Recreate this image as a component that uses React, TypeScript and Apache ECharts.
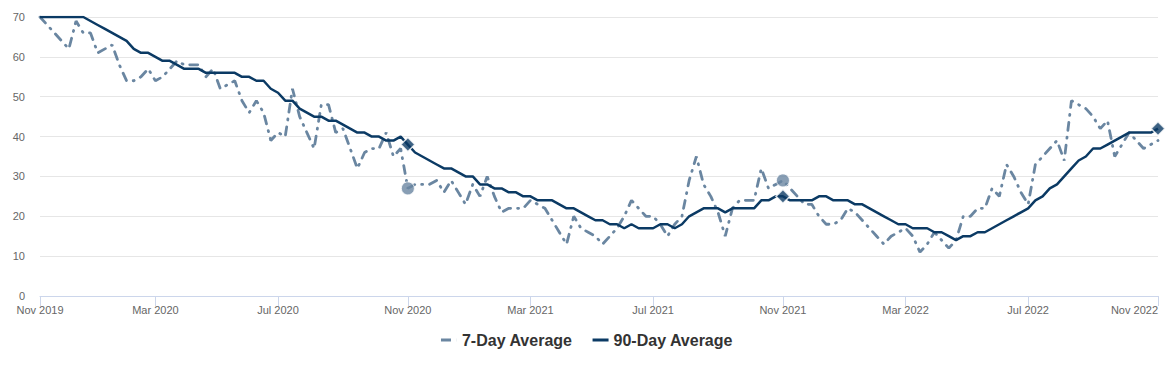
import React, { useEffect, useRef } from "react";
import * as echarts from "echarts";

// Weekly observations (ordinal x axis, one category per week)
const sevenDay: number[] = [
  70, 68, 66, 64, 62, 69, 66, 66, 61, 62,
  63, 58, 54, 54, 55, 57, 54, 55, 57, 59,
  58, 58, 58, 55, 57, 52, 53, 54, 49, 46,
  49, 46, 39, 41, 40, 52, 45, 41, 37, 48,
  48, 41, 42, 37, 32, 36, 37, 37, 41, 35,
  37, 27, 28, 28, 28, 29, 26, 29, 26, 23,
  28, 25, 30, 25, 21, 22, 22, 22, 24, 23,
  22, 19, 16, 13, 20, 17, 16, 15, 13, 15,
  17, 20, 24, 22, 20, 20, 18, 15, 18, 20,
  29, 35, 28, 25, 21, 15, 22, 24, 24, 24,
  32, 27, 28, 29, 27, 25, 23, 23, 20, 18,
  18, 19, 22, 21, 19, 17, 15, 13, 15, 16,
  17, 15, 11, 13, 16, 14, 12, 14, 20, 20,
  22, 22, 27, 25, 33, 30, 26, 23, 33, 35,
  37, 39, 34, 49, 48, 47, 45, 42, 44, 35,
  38, 41, 39, 37, 38, 39,
];

const ninetyDay: number[] = [
  70, 70, 70, 70, 70, 70, 70, 69, 68, 67,
  66, 65, 64, 62, 61, 61, 60, 59, 59, 58,
  57, 57, 57, 56, 56, 56, 56, 56, 55, 55,
  54, 54, 52, 51, 49, 49, 47, 46, 45, 45,
  44, 44, 43, 42, 41, 41, 40, 40, 39, 39,
  40, 38, 36, 35, 34, 33, 32, 32, 31, 30,
  30, 28, 28, 27, 27, 26, 26, 25, 25, 24,
  24, 24, 23, 22, 22, 21, 20, 19, 19, 18,
  18, 17, 18, 17, 17, 17, 18, 18, 17, 18,
  20, 21, 22, 22, 22, 21, 22, 22, 22, 22,
  24, 24, 25, 25, 24, 24, 24, 24, 25, 25,
  24, 24, 24, 23, 23, 22, 21, 20, 19, 18,
  18, 17, 17, 17, 16, 16, 15, 14, 15, 15,
  16, 16, 17, 18, 19, 20, 21, 22, 24, 25,
  27, 28, 30, 32, 34, 35, 37, 37, 38, 39,
  40, 41, 41, 41, 41, 42,
];

const weekCategories: string[] = sevenDay.map((_, i) => `Week ${i + 1}`);

const tickLabels: string[] = [
  "Nov 2019", "Mar 2020", "Jul 2020", "Nov 2020", "Mar 2021",
  "Jul 2021", "Nov 2021", "Mar 2022", "Jul 2022", "Nov 2022",
];
const tickWeeks: number[] = [0, 16, 33, 51, 68, 85, 103, 120, 137, 155];

const sevenDayMarkerWeeks: number[] = [51, 103];
const ninetyDayMarkerWeeks: number[] = [51, 103, 155];

const SEVEN_COLOR = "#6a86a1";
const NINETY_COLOR = "#0b3a64";
const FONT = "'Liberation Sans', Arial, sans-serif";

export default function App() {
  const ref = useRef<HTMLDivElement>(null);

  useEffect(() => {
    if (!ref.current) return;
    const chart = echarts.init(ref.current, undefined, { renderer: "svg" });
    const isTick = (i: number) => tickWeeks.indexOf(i) >= 0;

    chart.setOption({
      animation: false,
      backgroundColor: "#ffffff",
      textStyle: { fontFamily: FONT },
      grid: { left: 40, right: 16, top: 17, bottom: 69, containLabel: false },
      legend: {
        data: [
          {
            name: "7-Day Average",
            icon: "path://M0 0H10V3H0Z M15.9 0H16V3H15.9Z",
            itemStyle: { color: SEVEN_COLOR },
          },
          {
            name: "90-Day Average",
            icon: "path://M0 0H16V3H0Z",
            itemStyle: { color: NINETY_COLOR },
          },
        ],
        left: "center",
        top: 327,
        itemWidth: 16,
        itemHeight: 3,
        itemGap: 20,
        textStyle: {
          fontFamily: FONT,
          fontSize: 16,
          fontWeight: "bold",
          color: "#333333",
        },
      },
      xAxis: {
        type: "category",
        data: weekCategories,
        boundaryGap: false,
        axisLine: { show: true, lineStyle: { color: "#ccd6eb", width: 1 } },
        axisTick: {
          show: true,
          length: 10,
          interval: (i: number) => isTick(i),
          lineStyle: { color: "#ccd6eb" },
        },
        axisLabel: {
          interval: (i: number) => isTick(i),
          formatter: (_v: string, i: number) => {
            const k = tickWeeks.indexOf(i);
            return k >= 0 ? tickLabels[k] : "";
          },
          color: "#666666",
          fontSize: 11,
          fontFamily: FONT,
          margin: 8,
          alignMaxLabel: "right",
        },
        splitLine: { show: false },
      },
      yAxis: {
        type: "value",
        min: 0,
        max: 70,
        interval: 10,
        axisLine: { show: false },
        axisTick: { show: false },
        axisLabel: { color: "#666666", fontSize: 11, fontFamily: FONT, margin: 15 },
        splitLine: { lineStyle: { color: "#e6e6e6", width: 1 } },
      },
      series: [
        {
          name: "7-Day Average",
          type: "line",
          data: sevenDay,
          symbol: "none",
          showSymbol: false,
          color: SEVEN_COLOR,
          lineStyle: { color: SEVEN_COLOR, width: 2.8, type: [8, 7, 1, 7], cap: "round" },
          z: 2,
        },
        {
          name: "90-Day Average",
          type: "line",
          data: ninetyDay,
          symbol: "none",
          showSymbol: false,
          color: NINETY_COLOR,
          lineStyle: { color: NINETY_COLOR, width: 2.5 },
          z: 3,
        },
        {
          name: "7-Day markers",
          type: "scatter",
          data: sevenDayMarkerWeeks.map((i) => [i, sevenDay[i]]),
          symbol: "circle",
          symbolSize: 13,
          itemStyle: { color: SEVEN_COLOR, borderColor: "#ffffff", borderWidth: 1 },
          z: 4,
        },
        {
          name: "90-Day markers",
          type: "scatter",
          data: ninetyDayMarkerWeeks.map((i) => [i, ninetyDay[i]]),
          symbol: "diamond",
          symbolSize: 14,
          itemStyle: { color: NINETY_COLOR, borderColor: "#ffffff", borderWidth: 1.5 },
          z: 5,
        },
      ],
    });

    return () => chart.dispose();
  }, []);

  return (
    <div
      ref={ref}
      style={{ position: "absolute", left: 0, top: 0, width: 1174, height: 365 }}
    />
  );
}
